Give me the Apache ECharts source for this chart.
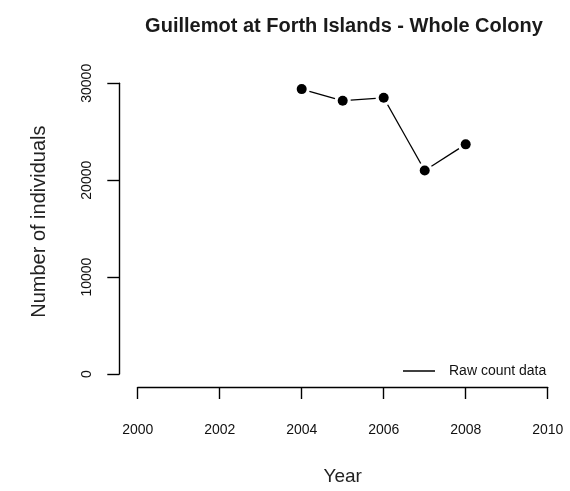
<!DOCTYPE html>
<html>
<head>
<meta charset="utf-8">
<script src="https://cdn.jsdelivr.net/npm/echarts@6/dist/echarts.min.js"></script>
<style>
html,body{margin:0;padding:0;background:#fff;}
#chart{width:570px;height:491px;}
</style>
</head>
<body>
<div id="chart"></div>
<script>
var years = [2004, 2005, 2006, 2007, 2008];
var counts = [29400, 28200, 28500, 21000, 23700];
var xTicks = [2000, 2002, 2004, 2006, 2008, 2010];
var yTicks = [0, 10000, 20000, 30000];
var titleText = 'Guillemot at Forth Islands - Whole Colony';
var seriesName = 'Raw count data';

var points = years.map(function (y, i) { return [y, counts[i]]; });
var segments = [];
for (var i = 1; i < years.length; i++) {
  segments.push([years[i - 1], counts[i - 1], years[i], counts[i]]);
}

var chart = echarts.init(document.getElementById('chart'));
var FONT = '"Liberation Sans", Arial, sans-serif';
chart.setOption({
  animation: false,
  backgroundColor: '#fff',
  title: {
    text: titleText,
    left: 339,
    top: 11,
    textAlign: 'center',
    textStyle: { fontFamily: FONT, fontSize: 20, fontWeight: 'bold', color: '#1a1a1a' }
  },
  legend: {
    left: 398,
    top: 359,
    itemWidth: 32,
    itemHeight: 1.5,
    icon: 'rect',
    data: [{ name: seriesName, icon: 'rect', itemStyle: { color: '#000' } }],
    textStyle: { fontFamily: FONT, fontSize: 14, color: '#111', padding: [0, 0, 0, 9] }
  },
  grid: { left: 137.7, right: 22.3, top: 83.3, bottom: 114 },
  xAxis: {
    type: 'value', min: xTicks[0], max: xTicks[xTicks.length - 1], interval: 2,
    offset: 13,
    splitLine: { show: false },
    axisLine: { show: true, onZero: false, lineStyle: { color: '#000', width: 1.4 } },
    axisTick: { show: true, length: 12, inside: false, lineStyle: { color: '#000', width: 1.4 } },
    axisLabel: { margin: 36, fontFamily: FONT, fontSize: 14, color: '#111', formatter: function (v) { return String(v); } },
    name: 'Year', nameLocation: 'middle', nameGap: 80,
    nameTextStyle: { fontFamily: FONT, fontSize: 19, color: '#222' }
  },
  yAxis: {
    type: 'value', min: yTicks[0], max: yTicks[yTicks.length - 1], interval: 10000,
    offset: 18.4,
    splitLine: { show: false },
    axisLine: { show: true, onZero: false, lineStyle: { color: '#000', width: 1.4 } },
    axisTick: { show: true, length: 12, inside: false, lineStyle: { color: '#000', width: 1.4 } },
    axisLabel: { rotate: 90, margin: 25, fontFamily: FONT, fontSize: 14, color: '#111', formatter: function (v) { return String(v); } },
    name: 'Number of individuals', nameLocation: 'middle', nameGap: 70,
    nameTextStyle: { fontFamily: FONT, fontSize: 20, color: '#222', padding: [0, 0, 0, 14] }
  },
  series: [
    {
      name: seriesName,
      type: 'custom',
      data: segments,
      itemStyle: { color: '#000' },
      renderItem: function (params, api) {
        var p0 = api.coord([api.value(0), api.value(1)]);
        var p1 = api.coord([api.value(2), api.value(3)]);
        var dx = p1[0] - p0[0], dy = p1[1] - p0[1];
        var len = Math.sqrt(dx * dx + dy * dy);
        var gap = 8;
        var ux = dx / len, uy = dy / len;
        return {
          type: 'line',
          shape: { x1: p0[0] + ux * gap, y1: p0[1] + uy * gap, x2: p1[0] - ux * gap, y2: p1[1] - uy * gap },
          style: { stroke: '#000', lineWidth: 1.3 }
        };
      }
    },
    {
      name: 'points',
      type: 'scatter',
      data: points,
      symbol: 'circle',
      symbolSize: 10,
      itemStyle: { color: '#000', opacity: 1 }
    }
  ]
});
</script>
</body>
</html>
